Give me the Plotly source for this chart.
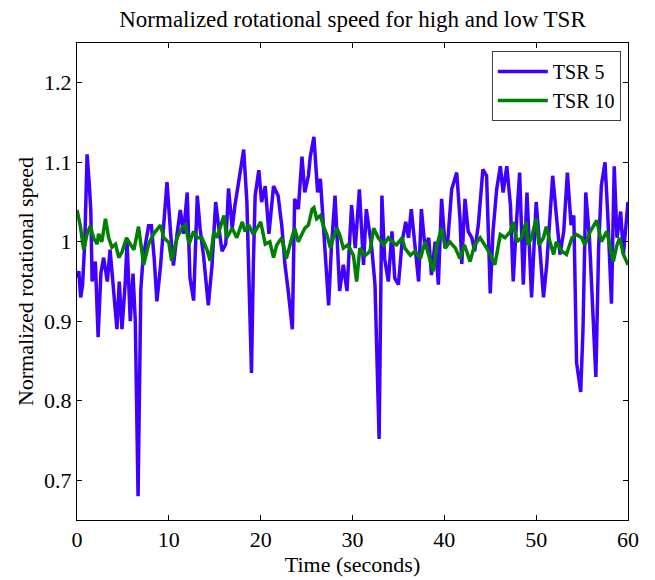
import plotly.graph_objects as go

# TSR 5 (blue) samples
t5 = [0.0, 0.2, 0.4, 0.6, 0.85, 1.1, 1.35, 1.5, 1.65, 2.0, 2.3, 2.6, 2.9, 3.3, 3.6, 4.0, 4.35, 4.6, 4.9,
      5.26, 5.45, 5.8, 6.1, 6.35, 6.65, 6.95, 7.2, 7.8, 8.1, 8.4, 8.7, 9.1, 9.8, 10.2, 10.5, 10.9, 11.25,
      11.6, 12.0, 12.3, 12.7, 13.1, 13.4, 13.8, 14.3, 14.7, 15.1, 15.4, 15.8, 16.2, 16.5, 16.9, 17.2, 17.6,
      18.15, 18.5, 18.75, 19.0, 19.2, 19.4, 19.8, 20.1, 20.5, 20.9, 21.4, 21.9, 22.3, 22.65, 23.0, 23.45,
      23.7, 24.1, 24.5, 24.8, 25.2, 25.4, 25.8, 26.2, 26.5, 26.9, 27.4, 27.7, 28.1, 28.6, 29.0, 29.4, 29.9,
      30.3, 30.75, 31.2, 31.5, 32.1, 32.45, 32.9, 33.2, 33.5, 33.9, 34.3, 34.6, 35.0, 35.4, 35.8, 36.1,
      36.4, 36.8, 37.2, 37.5, 37.9, 38.3, 38.6, 39.0, 39.35, 39.7, 40.1, 40.4, 40.8, 41.35, 41.7, 41.9,
      42.25, 42.6, 43.0, 43.3, 43.7, 44.2, 44.6, 45.0, 45.3, 45.7, 46.1, 46.4, 46.8, 47.2, 47.5, 47.9,
      48.2, 48.6, 49.0, 49.5, 50.0, 50.4, 50.8, 51.15, 51.5, 51.8, 52.2, 52.6, 53.0, 53.4, 53.8, 54.1,
      54.4, 54.85, 55.1, 55.4, 55.8, 56.2, 56.5, 56.8, 57.1, 57.5, 57.8, 58.2, 58.5, 58.8, 59.2, 59.5, 60.0]
v5 = [0.955, 0.963, 0.93, 0.945, 1.0, 1.11, 1.07, 1.04, 0.95, 0.975, 0.88, 0.96, 0.98, 0.95, 0.99, 0.94,
      0.89, 0.95, 0.89, 0.95, 1.0, 0.9, 0.96, 0.9, 0.68, 0.94, 0.98, 1.02, 1.02, 0.98, 0.925, 0.97, 1.075,
      1.01, 0.97, 1.01, 1.04, 1.01, 1.062, 0.955, 0.926, 1.058, 1.017, 0.98, 0.92, 0.97, 1.05, 1.021,
      0.988, 0.997, 1.067, 1.017, 1.046, 1.075, 1.116, 1.05, 0.95, 0.835, 0.97, 1.058, 1.09, 1.05, 1.07,
      1.01, 1.07, 1.058, 1.02, 0.971, 0.938, 0.89, 1.054, 1.041, 1.107, 1.062, 1.083, 1.107, 1.132,
      1.062, 1.079, 1.013, 0.92, 0.992, 1.058, 0.938, 0.971, 0.938, 1.046, 0.992, 1.066, 0.971, 1.041,
      0.992, 0.946, 0.752, 1.058, 0.979, 0.95, 1.013, 0.954, 0.946, 1.0, 1.025, 1.005, 1.041, 0.996,
      0.95, 1.041, 0.992, 1.005, 0.958, 1.0, 0.946, 1.054, 0.992, 1.005, 1.066, 1.087, 1.03, 0.972,
      1.054, 1.013, 1.005, 0.988, 1.021, 1.091, 1.083, 0.935, 1.013, 1.066, 1.095, 1.062, 1.095, 1.046,
      0.95, 1.033, 1.087, 0.946, 1.062, 0.93, 1.05, 0.992, 0.93, 0.971, 1.025, 1.083, 1.033, 0.984,
      1.013, 1.087, 1.021, 1.033, 0.848, 0.811, 0.89, 1.062, 1.005, 0.914, 0.83, 0.992, 1.071, 1.1,
      1.033, 0.922, 1.095, 1.005, 1.038, 0.984, 1.05]

# TSR 10 (green) samples
t10 = [0.0, 0.36, 0.73, 1.1, 1.45, 1.8, 2.2, 2.35, 2.7, 3.1, 3.45, 3.8, 4.2, 4.55, 4.9, 5.4, 5.8, 6.2,
       6.7, 7.26, 7.8, 8.35, 9.1, 9.45, 10.0, 10.3, 10.9, 11.4, 11.8, 12.2, 12.7, 13.1, 13.6, 14.15, 14.5,
       14.9, 15.25, 16.0, 16.3, 16.9, 17.4, 18.0, 18.3, 18.7, 19.2, 20.0, 20.5, 21.0, 21.4, 21.75, 22.3,
       22.8, 23.4, 23.7, 24.1, 24.5, 24.8, 25.2, 25.6, 25.8, 26.1, 26.5, 26.8, 27.2, 27.6, 27.9, 28.3,
       28.6, 29.0, 29.5, 30.1, 30.45, 30.8, 31.4, 31.9, 32.3, 32.8, 33.4, 33.9, 34.3, 34.8, 35.4, 35.7,
       36.3, 36.8, 37.4, 37.9, 38.4, 38.8, 39.2, 39.7, 40.1, 40.6, 41.2, 41.7, 42.2, 42.8, 43.3, 43.9,
       44.4, 45.0, 45.5, 46.1, 46.6, 47.2, 47.5, 47.9, 48.4, 48.9, 49.1, 49.5, 50.0, 50.3, 50.8, 51.1,
       51.5, 51.9, 52.2, 52.8, 53.3, 53.9, 54.4, 54.95, 55.3, 55.9, 56.6, 57.1, 57.7, 58.0, 58.4, 58.8,
       59.1, 59.5, 60.0]
v10 = [1.04, 1.02, 0.99, 1.01, 1.02, 1.005, 0.997, 1.01, 1.0, 1.029, 1.005, 0.993, 0.997, 0.98, 0.987,
       1.005, 0.997, 0.99, 1.019, 0.971, 0.997, 1.01, 1.021, 1.005, 0.999, 0.976, 1.005, 1.017, 1.021,
       0.997, 1.013, 1.005, 1.005, 0.99, 0.976, 1.013, 1.005, 1.033, 1.005, 1.017, 1.005, 1.025, 1.013,
       1.021, 1.009, 1.025, 0.997, 1.0, 0.98, 0.996, 1.005, 0.979, 1.005, 1.017, 1.0, 1.009, 1.017,
       1.021, 1.041, 1.043, 1.029, 1.033, 1.021, 1.009, 0.992, 1.005, 1.017, 1.009, 0.992, 0.996, 0.983,
       0.95, 0.992, 0.983, 0.988, 1.017, 1.005, 0.996, 1.005, 1.0, 0.996, 1.005, 0.992, 0.983, 0.988,
       0.979, 1.0, 0.979, 0.963, 0.996, 1.017, 0.992, 1.0, 0.992, 0.979, 0.996, 0.975, 0.996, 1.005,
       0.996, 0.984, 0.971, 1.009, 1.005, 1.013, 1.025, 1.0, 1.005, 1.025, 0.996, 1.005, 1.029, 0.996,
       1.005, 1.019, 1.0, 0.984, 1.0, 0.988, 0.984, 1.005, 1.009, 1.005, 0.996, 1.013, 1.027, 1.0, 1.013,
       0.996, 0.975, 0.996, 1.005, 0.984, 0.971]

x_ticks = [0, 10, 20, 30, 40, 50, 60]
y_ticks = [0.7, 0.8, 0.9, 1.0, 1.1, 1.2]
y_tick_text = ["0.7", "0.8", "0.9", "1", "1.1", "1.2"]

FONT = "Liberation Serif, Times New Roman, serif"

fig = go.Figure()
fig.add_trace(go.Scatter(x=t5, y=v5, mode="lines", name="TSR 5",
                         line=dict(color="#3f00ff", width=3.5)))
fig.add_trace(go.Scatter(x=t10, y=v10, mode="lines", name="TSR 10",
                         line=dict(color="#008000", width=3.5)))

axis_common = dict(
    showline=True, linecolor="black", linewidth=1, mirror="ticks",
    ticks="inside", ticklen=5, tickcolor="black",
    showgrid=False, zeroline=False,
    tickfont=dict(family=FONT, size=22, color="black"),
)

fig.update_layout(
    width=655, height=580,
    margin=dict(l=77, r=27, t=43, b=54),
    paper_bgcolor="white", plot_bgcolor="white",
    font=dict(family=FONT, size=22, color="black"),
    title=dict(text="Normalized rotational speed for high and low TSR",
               x=0.5382, xanchor="center", y=1 - 19 / 580, yanchor="middle",
               font=dict(family=FONT, size=23, color="black")),
    xaxis=dict(range=[0, 60], tickvals=x_ticks,
               title=dict(text="Time (seconds)", standoff=0,
                          font=dict(family=FONT, size=22)),
               **axis_common),
    yaxis=dict(range=[0.65, 1.25], tickvals=y_ticks, ticktext=y_tick_text,
               title=dict(text="Normalized rotational speed", standoff=4,
                          font=dict(family=FONT, size=22)),
               **axis_common),
    legend=dict(x=0.987, y=0.983, xanchor="right", yanchor="top",
                bgcolor="white", bordercolor="#404040", borderwidth=1,
                font=dict(family=FONT, size=20, color="black"),
                tracegroupgap=0, itemwidth=50),
    showlegend=True,
)

fig.write_html("out.html")
